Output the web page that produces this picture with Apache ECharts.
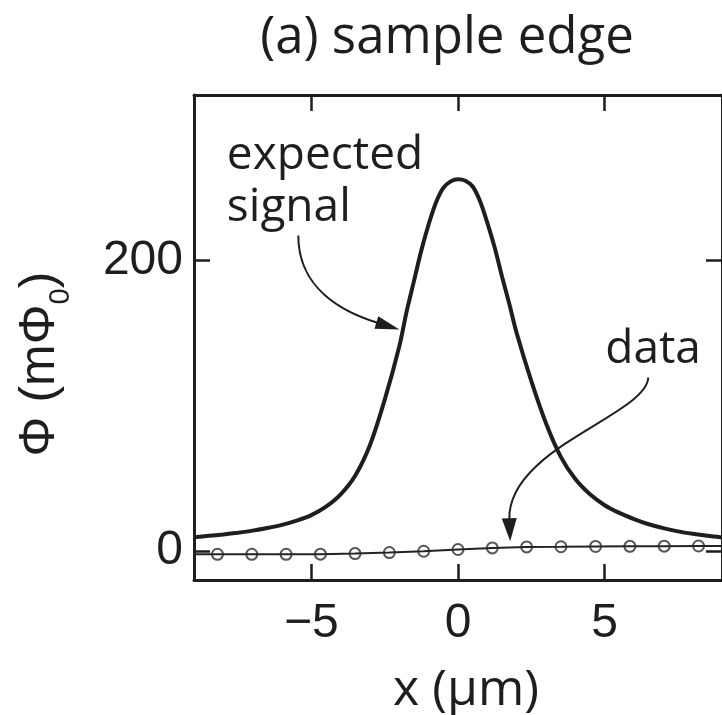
<!DOCTYPE html>
<html><head><meta charset="utf-8">
<script src="https://cdn.jsdelivr.net/npm/echarts@6/dist/echarts.min.js"></script>
<style>html,body{margin:0;padding:0;background:#fff}#c{width:722px;height:715px}</style>
</head><body><div id="c"></div>
<script>
// ---- data ----
const xTicks = [-5, 0, 5];
const yTicks = [0, 200];
const xRange = [-9, 9];
const yRange = [-20, 314];

const expX = [-9, -8.5, -8, -7.5, -7, -6.5, -6, -5.5, -5, -4.5, -4, -3.5, -3, -2.5, -2, -1.75, -1.5, -1.25,
              -1, -0.75, -0.5, -0.25, 0, 0.25, 0.5, 0.75, 1, 1.25, 1.5, 1.75, 2, 2.5, 3, 3.5, 4, 4.5,
              5, 5.5, 6, 6.5, 7, 7.5, 8, 8.5, 9];
const expY = [9.5, 10.4, 11.4, 12.6, 14.0, 15.8, 18.0, 20.9, 24.7, 30.5, 39, 52, 73, 104, 141, 165, 186, 207,
              225, 240, 250, 254.5, 256, 255, 251, 241, 226, 209, 189, 170, 150, 117, 88, 65, 49.5, 39,
              31.5, 26.2, 22, 18.4, 15.7, 13.5, 11.8, 10.4, 9.3];

const dataX = [-8.2, -7.03, -5.86, -4.69, -3.51, -2.34, -1.17, 0, 1.17, 2.34, 3.51, 4.69, 5.86, 7.03, 8.2];
const dataY = [-2.3, -2.3, -2.3, -2.2, -1.8, -1.1, -0.2, 1.0, 2.1, 2.8, 2.9, 3.1, 3.2, 3.3, 3.4];

// annotation arrows (cubic bezier control points in data units) and labels
const arrowExpected = [[-5.445, 217.2], [-5.445, 181.4], [-4.0, 164.9], [-2.0, 152.5]];
const arrowData = [[6.487, 119.5], [6.42, 93.4], [1.647, 70.7], [1.78, 6.7]];
const labelExpected = ['expected', 'signal'];
const labelData = 'data';

// ---- chart ----
const INK = '#1e1e1e';
const chart = echarts.init(document.getElementById('c'), null, {renderer: 'canvas'});

const expSeries = expX.map((x, i) => [x, expY[i]]);
const dataPts = dataX.map((x, i) => [x, dataY[i]]);
const dataLine = [[xRange[0], dataY[0]]].concat(dataPts, [[xRange[1], dataY[dataY.length - 1]]]);

const fmtX = v => (v < 0 ? '\u2212' + Math.abs(v) : String(v));

function baseAxisX(pos, showLabel) {
  return {
    type: 'value', min: xRange[0], max: xRange[1], position: pos,
    axisLine: {show: true, onZero: false, lineStyle: {color: INK, width: 3}},
    axisTick: {show: true, inside: true, length: 16, customValues: xTicks, lineStyle: {color: INK, width: 2.5}},
    axisLabel: {show: showLabel, customValues: xTicks, formatter: fmtX, fontFamily: 'Liberation Sans',
                fontSize: 48, color: INK, margin: 20},
    splitLine: {show: false}
  };
}
function baseAxisY(pos, showLabel) {
  return {
    type: 'value', min: yRange[0], max: yRange[1], position: pos,
    axisLine: {show: true, onZero: false, lineStyle: {color: INK, width: 3}},
    axisTick: {show: true, inside: true, length: 16, customValues: yTicks, lineStyle: {color: INK, width: 2.5}},
    axisLabel: {show: showLabel, customValues: yTicks, fontFamily: 'Liberation Sans',
                fontSize: 48, color: INK, margin: 11},
    splitLine: {show: false}
  };
}

function arrowShape(api, pts, headLen, headW) {
  const p = pts.map(q => api.coord(q));
  const dx = p[3][0] - p[2][0], dy = p[3][1] - p[2][1];
  const L = Math.sqrt(dx * dx + dy * dy);
  const ux = dx / L, uy = dy / L;
  const bx = p[3][0] - ux * headLen, by = p[3][1] - uy * headLen;
  const nx = -uy, ny = ux;
  return [
    {type: 'bezierCurve', shape: {x1: p[0][0], y1: p[0][1], cpx1: p[1][0], cpy1: p[1][1],
        cpx2: p[2][0], cpy2: p[2][1], x2: bx + ux * 2, y2: by + uy * 2},
     style: {stroke: INK, lineWidth: 2, fill: null}},
    {type: 'polygon', shape: {points: [[p[3][0], p[3][1]], [bx + nx * headW / 2, by + ny * headW / 2],
        [bx - nx * headW / 2, by - ny * headW / 2]]},
     style: {fill: INK, stroke: null}}
  ];
}

const FS = 46;
function textAt(api, pos, str) {
  const c = api.coord(pos);
  return {type: 'text', style: {text: str, x: c[0], y: c[1] - 0.285 * FS, fill: INK,
      font: FS + 'px "Open Sans"', textAlign: 'left', textVerticalAlign: 'middle', verticalAlign: 'middle'}};
}

const option = {
  animation: false,
  backgroundColor: '#fff',
  grid: {left: 194, right: -7, top: 95, bottom: 135},
  xAxis: [baseAxisX('bottom', true), baseAxisX('top', false)],
  yAxis: [baseAxisY('left', true), baseAxisY('right', false)],
  series: [
    {type: 'custom', name: 'annotations', silent: true, data: [[0, 0]], z: 1,
     renderItem: function (params, api) {
       const children = []
         .concat(arrowShape(api, arrowExpected, 24, 13))
         .concat(arrowShape(api, arrowData, 23, 15));
       children.push(textAt(api, [-7.88, 263.2], labelExpected[0]));
       children.push(textAt(api, [-7.88, 227.4], labelExpected[1]));
       children.push(textAt(api, [5.02, 129.1], labelData));
       return {type: 'group', children: children};
     }},
    {type: 'line', name: 'expected signal', data: expSeries, showSymbol: false, smooth: 0.3,
     lineStyle: {color: INK, width: 4}, z: 3},
    {type: 'line', name: 'data line', data: dataLine, showSymbol: false, smooth: false,
     lineStyle: {color: '#222', width: 2}, z: 4},
    {type: 'scatter', name: 'data', data: dataPts, symbol: 'circle', symbolSize: 11,
     itemStyle: {color: 'rgba(0,0,0,0)', borderColor: '#2a2a2a', borderWidth: 2}, z: 5}
  ],
  graphic: [
    {type: 'text', x: 447, y: 38, style: {text: '(a) sample edge', font: '51px "Open Sans"', fill: INK,
       textAlign: 'center', textVerticalAlign: 'middle', verticalAlign: 'middle'}},
    {type: 'text', x: 466, y: 691, style: {text: 'x (\u03bcm)', font: '50px "Open Sans"', fill: INK,
       textAlign: 'center', textVerticalAlign: 'middle', verticalAlign: 'middle'}},
    {type: 'text', x: 40, y: 364, rotation: Math.PI / 2,
     style: {text: '{m|\u03a6 (m\u03a6}{s|0}{m|)}', fill: INK, textAlign: 'center',
       textVerticalAlign: 'middle', verticalAlign: 'middle',
       rich: {m: {fontFamily: 'Liberation Sans', fontSize: 50, lineHeight: 70, fill: INK, color: INK},
              s: {fontFamily: 'Liberation Sans', fontSize: 29, lineHeight: 29, verticalAlign: 'bottom', fill: INK, color: INK}}}}
  ]
};
chart.setOption(option);
</script></body></html>
